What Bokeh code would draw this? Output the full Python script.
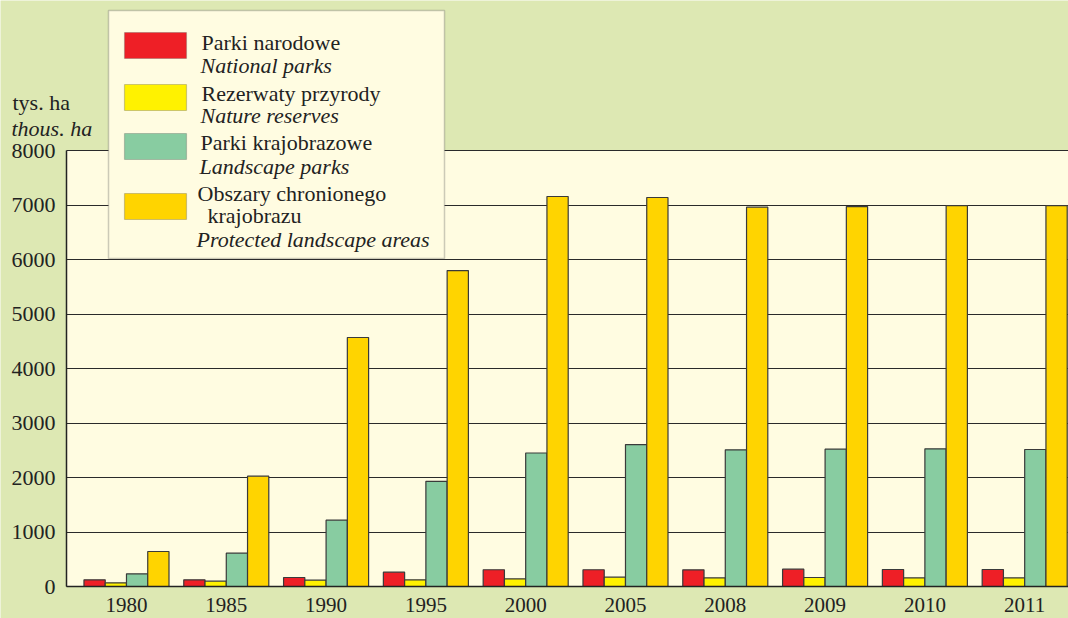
from bokeh.plotting import figure
from bokeh.models import (ColumnDataSource, Range1d, FixedTicker, Label, BoxAnnotation,
                          LinearAxis, Grid)
from bokeh.transform import dodge
from bokeh.embed import file_html
from bokeh.resources import INLINE

# ---- data (thousand ha) ----
years = ["1980", "1985", "1990", "1995", "2000", "2005", "2008", "2009", "2010", "2011"]
national_parks = [123, 123, 165, 263, 307, 307, 306, 317, 312, 312]
nature_reserves = [68, 97, 116, 123, 141, 171, 159, 165, 159, 159]
landscape_parks = [233, 611, 1217, 1930, 2450, 2604, 2508, 2520, 2526, 2514]
protected_areas = [642, 2024, 4569, 5796, 7156, 7138, 6961, 6972, 6990, 6990]
y_ticks = [0, 1000, 2000, 3000, 4000, 5000, 6000, 7000, 8000]

series_pl = ["Parki narodowe", "Rezerwaty przyrody", "Parki krajobrazowe",
             "Obszary chronionego\nkrajobrazu"]
series_en = ["National parks", "Nature reserves", "Landscape parks",
             "Protected landscape areas"]
colors = ["#ee1f26", "#fff200", "#88cca1", "#ffd400"]

FONT = "Liberation Serif"
BG = "#dde8b3"
PLOT_BG = "#fffce1"
TXT = "#222222"

# ---- layout constants ----
FIG_W, FIG_H = 1068, 618
PX_X = 99.8             # px per category
XL, XR = -0.601, 9.439  # plot-area edges (category units)
YMAX = 8000
PX_Y = 436 / YMAX       # px per thousand ha
x_start = XL - 66 / PX_X
y_end = YMAX + 150 / PX_Y
y_start = -32 / PX_Y

idx = list(range(len(years)))
source = ColumnDataSource(dict(idx=idx, years=years, np=national_parks, nr=nature_reserves,
                               lp=landscape_parks, pa=protected_areas))

p = figure(width=FIG_W, height=FIG_H, output_backend="svg", toolbar_location=None,
           x_range=Range1d(x_start, XR), y_range=Range1d(y_start, y_end),
           x_axis_type=None, y_axis_type=None, min_border=0)
p.title.visible = False
p.background_fill_color = BG
p.border_fill_color = BG
p.outline_line_color = None

# plot-area background
p.add_layout(BoxAnnotation(left=XL, bottom=0, top=YMAX, fill_color=PLOT_BG, fill_alpha=1.0,
                           line_color=None, level="image"))

# horizontal grid lines
grid = Grid(dimension=1, ticker=FixedTicker(ticks=y_ticks), bounds=(0, YMAX),
            grid_line_color="#2a2a2a", grid_line_width=1)
try:
    grid.cross_bounds = (XL, XR)
except Exception:
    p.add_layout(BoxAnnotation(right=XL, bottom=-1, top=YMAX + 1, fill_color=BG,
                               fill_alpha=1.0, line_color=None, level="glyph"))
p.add_layout(grid)

bw = 0.213
offsets = [-1.5 * bw, -0.5 * bw, 0.5 * bw, 1.5 * bw]
for col, off, c in zip(["np", "nr", "lp", "pa"], offsets, colors):
    p.vbar(x=dodge("idx", off, range=p.x_range), top=col, bottom=0, width=bw, source=source,
           fill_color=c, line_color="#3a3a3a", line_width=1.2)

# axes at fixed locations
yax = LinearAxis(ticker=FixedTicker(ticks=y_ticks), fixed_location=XL, bounds=(0, YMAX))
xax = LinearAxis(ticker=FixedTicker(ticks=idx), fixed_location=0, bounds=(XL, XR),
                 major_label_overrides={i: y for i, y in zip(idx, years)})
for ax in (xax, yax):
    ax.major_tick_line_color = None
    ax.minor_tick_line_color = None
    ax.major_tick_out = 0
    ax.major_tick_in = 0
    ax.axis_line_color = TXT
    ax.axis_line_width = 1.5
    ax.major_label_text_font = FONT
    ax.major_label_text_color = TXT
yax.major_label_text_font_size = "22px"
xax.major_label_text_font_size = "21px"
yax.major_label_standoff = 11
xax.major_label_standoff = 11
p.add_layout(yax, "left")
p.add_layout(xax, "below")

# ---- annotations in screen units (frame == whole figure) ----
def sx(ref_x):
    return ref_x

def sy(ref_y):
    return FIG_H - ref_y

def label(x, y, text, italic=False):
    p.add_layout(Label(x=sx(x), y=sy(y), x_units="screen", y_units="screen", text=text,
                       text_font=FONT, text_font_size="22px", text_color=TXT,
                       text_font_style="italic" if italic else "normal",
                       text_baseline="alphabetic", level="overlay"))

label(12, 102, "tys. ha")
label(11, 128, "thous. ha", italic=True)

# legend box
p.add_layout(BoxAnnotation(left=sx(108), right=sx(444), top=sy(10), bottom=sy(258),
                           left_units="screen", right_units="screen",
                           top_units="screen", bottom_units="screen",
                           fill_color=PLOT_BG, fill_alpha=1.0,
                           line_color="#555555", line_width=1.5, level="overlay"))
swatch_tops = [32, 84, 133, 193]
pl_pos = [[(201, 42)], [(201, 93)], [(200, 142)], [(197, 193), (207, 215)]]
en_pos = [(200, 65), (200, 115), (199, 166), (196, 239)]
for i in range(4):
    p.add_layout(BoxAnnotation(left=sx(124), right=sx(186), top=sy(swatch_tops[i]),
                               bottom=sy(swatch_tops[i] + 26),
                               left_units="screen", right_units="screen",
                               top_units="screen", bottom_units="screen",
                               fill_color=colors[i], fill_alpha=1.0,
                               line_color="#555555", line_width=1.2, level="overlay"))
    for ln, (x, y) in zip(series_pl[i].split("\n"), pl_pos[i]):
        label(x, y, ln)
    label(en_pos[i][0], en_pos[i][1], series_en[i], italic=True)

open("out.html", "w").write(file_html(p, INLINE))
